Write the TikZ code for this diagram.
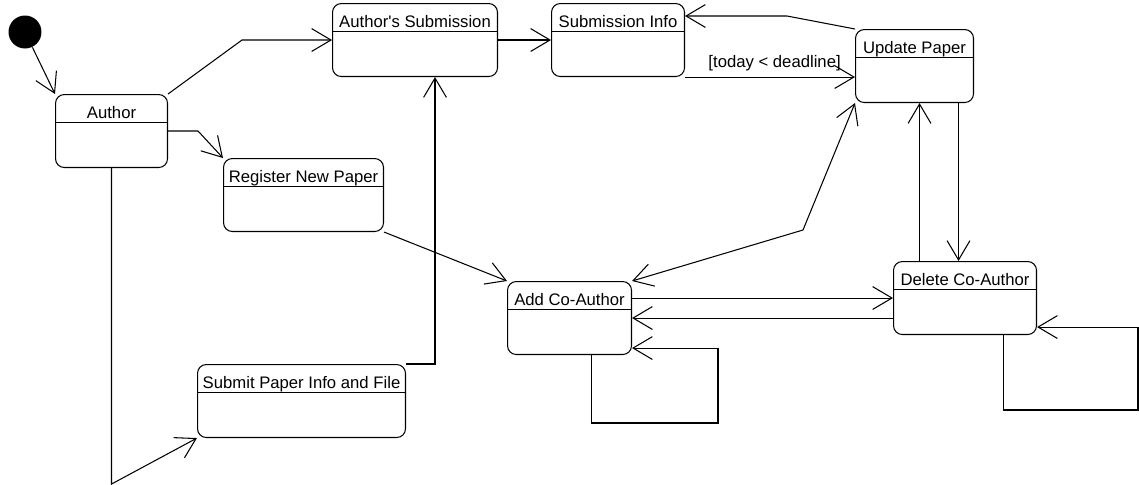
\documentclass[tikz,border=0pt]{standalone}
\usepackage{fontspec}
\setmainfont{Liberation Sans}
\usetikzlibrary{arrows.meta}

\tikzset{
	state/.style={draw, rounded corners=5pt, anchor=north west, inner xsep=2pt, inner ysep=0pt,
		text height=0.48cm, text depth=0.98cm,
		path picture={\draw ([yshift=-0.56cm]path picture bounding box.north west)
			-- ([yshift=-0.56cm]path picture bounding box.north east);}},
}

\begin{document}
\begin{tikzpicture}[x=0.02cm, y=-0.02cm, line width=0.6pt,
	>={Straight Barb[length=11pt,width=13pt]}, font=\fontsize{9.5}{11}\selectfont]
	\useasboundingbox (0,0) rectangle (1139,484);
	
	% 状态
	\node[circle, fill, minimum size=0.66cm, inner sep=0pt] (init) at (25,32) {};
	\node[state, minimum width=2.24cm] (author) at (55,94) {Author};
	\node[state, minimum width=3.30cm] (subm) at (332,3) {Author\XeTeXglyph\XeTeXcharglyph"27 s Submission};
	\node[state, minimum width=2.66cm] (info) at (551,3) {Submission Info};
	\node[state, minimum width=2.36cm] (update) at (855,29) {Update Paper};
	\node[state, minimum width=3.20cm] (register) at (223,158) {Register New Paper};
	\node[state, minimum width=2.48cm] (addco) at (507,281) {Add Co-Author};
	\node[state, minimum width=2.86cm] (delete) at (893,261) {Delete Co-Author};
	\node[state, minimum width=4.16cm] (submit) at (197,364) {Submit Paper Info and File};
	
	% 转移
	\draw[->] (init) -- (author.north west);
	\draw[->] (author.north east) -- (242,40) -- (subm.west);
	\draw[->] (author.east) -- ++(30,0) -- (register.north west);
	\draw[->] (author.south) -- ++(0,316) -- (submit.south west);
	\draw[->] (submit.north east) -| ([xshift=0.4cm]subm.south);
	\draw[->] (subm.east) -- (info.west);
	\draw[->] (update.north west) -- (787,16) -- ([yshift=-0.26cm]info.north east);
	\draw[->] (info.south east) -- (info.south east -| update.west)
		node[pos=0.95, above left, inner sep=3pt] (guard) {[today < deadline]};
	\draw[<->] (addco.north east) -- (803,230) -- (update.south west);
	\draw[->] (register.south east) -- (addco.north west);
	
	\coordinate (up) at ([xshift=0.1cm]update.south);
	\coordinate (dn) at ([xshift=-0.13cm]delete.north);
	\draw[->] (up |- delete.north) -- (up);
	\draw[->] (dn |- update.south) -- (dn);
	\draw[->] (addco.east |- delete.west) -- (delete.west);
	\draw[->] (delete.west |- addco.east) -- (addco.east);
	
	% 自环
	\draw[->] ([xshift=0.44cm]addco.south) |- (718,423) |- ([yshift=0.14cm]addco.south east);
	\draw[->] ([xshift=0.77cm]delete.south) |- (1138,410) |- ([yshift=0.16cm]delete.south east);
\end{tikzpicture}
\end{document}
